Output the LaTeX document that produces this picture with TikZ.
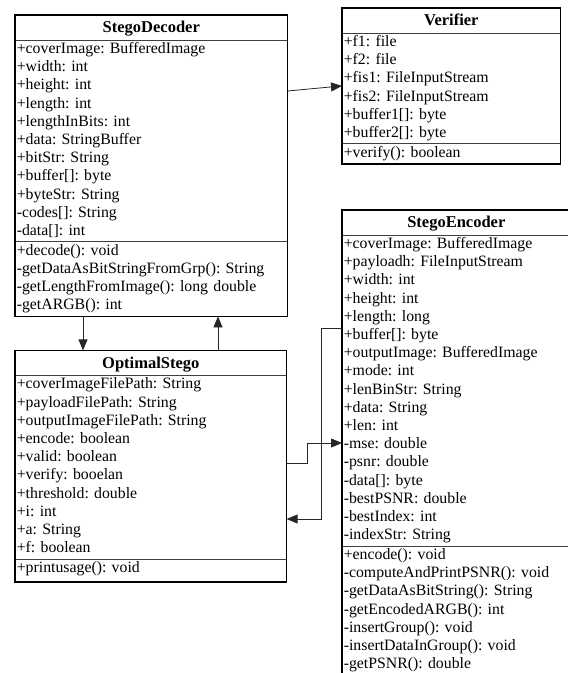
\documentclass[tikz,border=0pt]{standalone}
\usepackage{fontspec}
\setmainfont{Liberation Serif}
\usetikzlibrary{positioning, shapes.multipart, arrows.meta}
\setlength{\parindent}{0pt}
\frenchspacing

\tikzset{
  umlclass/.style={draw=black!75, line width=0.6pt, rectangle split, rectangle split parts=3,
    anchor=north west, inner xsep=1.5pt, inner ysep=0.5pt, align=left,
    font=\fontsize{15.8}{18.2}\selectfont},
  link/.style={draw=black!85, line width=0.8pt},
  arr/.style={link, -{Triangle[length=11pt,width=9pt]}}
}
\newcommand{\classtitle}[1]{\centerline{\rule[-6.5pt]{0pt}{23pt}\fontsize{16.5}{18.2}\selectfont\bfseries #1}}

\begin{document}
\begin{tikzpicture}[x=1pt, y=-1pt]
    \useasboundingbox (0,0) rectangle (568,673);
    \node[umlclass, text width=269pt] (decoder) at (15,15) {\classtitle{StegoDecoder}
      \nodepart{two}\strut+coverImage: BufferedImage\\+width: int\\+height: int\\+length: int\\+lengthInBits: int\\+data: StringBuffer\\+bitStr: String\\+buffer[]: byte\\+byteStr: String\\-codes[]: String\\-data[]: int\strut
      \nodepart{three}\strut+decode(): void\\-getDataAsBitStringFromGrp(): String\\-getLengthFromImage(): long double\\-getARGB(): int\strut};
    \node[umlclass, text width=215pt] (verifier) at (342,8) {\classtitle{Verifier}
      \nodepart{two}\strut+f1: file\\+f2: file\\+fis1: FileInputStream\\+fis2: FileInputStream\\+buffer1[]: byte\\+buffer2[]: byte\strut
      \nodepart{three}\strut+verify(): boolean\strut};
    \node[umlclass, text width=268pt, below right=34pt and 0pt of decoder.south west] (optimal) {\classtitle{OptimalStego}
      \nodepart{two}\strut+coverImageFilePath: String\\+payloadFilePath: String\\+outputImageFilePath: String\\+encode: boolean\\+valid: boolean\\+verify: booelan\\+threshold: double\\+i: int\\+a: String\\+f: boolean\strut
      \nodepart{three}\strut+printusage(): void\rule[-8.5pt]{0pt}{0pt}};
    \node[umlclass, text width=225pt] (encoder) at (342,210) {\classtitle{StegoEncoder}
      \nodepart{two}\strut+coverImage: BufferedImage\\+payloadh: FileInputStream\\+width: int\\+height: int\\+length: long\\+buffer[]: byte\\+outputImage: BufferedImage\\+mode: int\\+lenBinStr: String\\+data: String\\+len: int\\-mse: double\\-psnr: double\\-data[]: byte\\-bestPSNR: double\\-bestIndex: int\\-indexStr: String\strut
      \nodepart{three}\strut+encode(): void\\-computeAndPrintPSNR(): void\\-getDataAsBitString(): String\\-getEncodedARGB(): int\\-insertGroup(): void\\-insertDataInGroup(): void\\-getPSNR(): double\strut};
    % thick outer frames
    \foreach \c in {decoder,verifier,optimal,encoder}
      \draw[line width=1.6pt] (\c.north west) rectangle (\c.south east);
    \draw[arr] (decoder.east |- 0,91) -- (verifier.west);
    \draw[arr] (decoder.south -| 83,0) -- (optimal.north -| 83,0);
    \draw[arr] (optimal.north -| 218,0) -- (decoder.south -| 218,0);
    \draw[arr] (encoder.west |- 0,328) -| (321,519) -- (optimal.east |- 0,519);
    \draw[arr] (optimal.east |- 0,463) -| (307,443) -- (encoder.west |- 0,443);
\end{tikzpicture}
\end{document}
